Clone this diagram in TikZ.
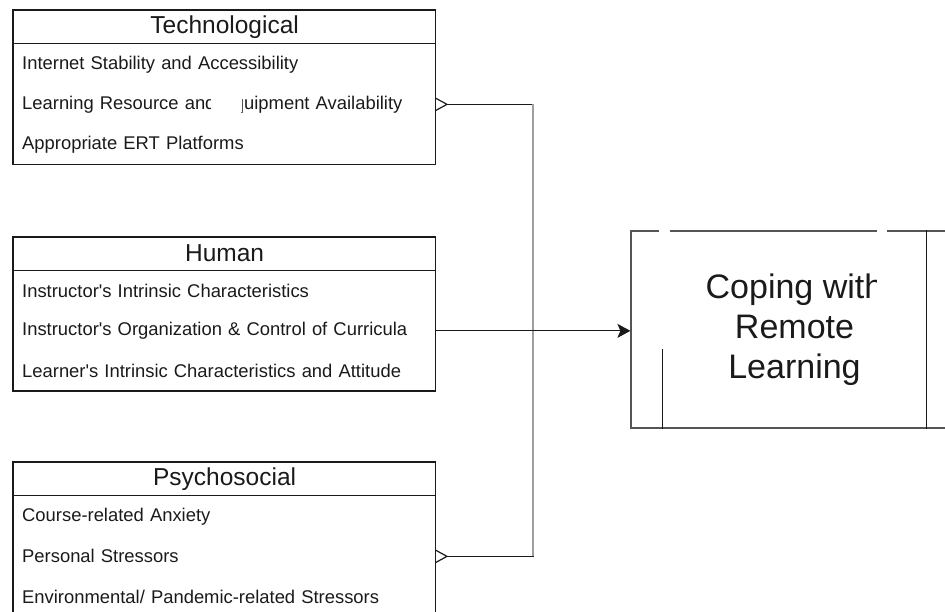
\documentclass[tikz,border=0pt]{standalone}
\usepackage{fontspec}
\setmainfont{Liberation Sans}[Ligatures=TeXOff]
\usetikzlibrary{arrows.meta}
\definecolor{ink}{HTML}{1A1A1A}
\definecolor{edge}{HTML}{555555}
\newcommand{\hidebit}{\kern-0.14em\llap{\color{white}\rule[-0.12em]{1.64em}{0.92em}}\kern0.14em}
\begin{document}
\begin{tikzpicture}[x=1pt,y=-1pt,
  hdr/.style={draw=ink, line width=1.2pt, minimum width=422pt, minimum height=33pt, anchor=north west, inner sep=0pt, text=ink, font=\fontsize{24.5}{28}\selectfont},
  row/.style={minimum width=422pt, minimum height=39.7pt, anchor=north west, inner xsep=9pt, inner ysep=0pt, text width=404pt, align=left, text=ink, font=\fontsize{18.4}{21}\selectfont},
  frame/.style={draw=ink, line width=1.2pt},
  barb/.tip={Straight Barb[reversed, length=11pt, width=12pt]},
  link/.style={draw=ink, line width=1.2pt},
  blocktip/.tip={Stealth[length=13pt, width=14pt, inset=3pt]}]
\useasboundingbox (0,0) rectangle (945,611);
\clip (0,0) rectangle (945,611);
% Technological
\node[hdr] (th) at (13,10) {Technological};
\node[row] (t1) at (th.south west) {Internet Stability and Accessibility};
\node[row] (t2) at (t1.south west) {Learning Resource and Eq\hidebit uipment Availability};
\node[row] (t3) at (t2.south west) {Appropriate ERT Platforms};
\draw[frame] (th.north west) rectangle (t3.south east);
% Human
\node[hdr] (hh) at (13,236.5) {Human};
\node[row] (h1) at (hh.south west) {Instructor's Intrinsic Characteristics};
\node[row] (h2) at (h1.south west) {Instructor's Organization \& Control of Curricula};
\node[row] (h3) at (h2.south west) {Learner's Intrinsic Characteristics and Attitude};
\draw[frame] (hh.north west) rectangle (h3.south east);
% Psychosocial
\node[hdr] (ph) at (13,462) {Psychosocial};
\node[row] (p1) at (ph.south west) {Course-related Anxiety};
\node[row] (p2) at (p1.south west) {Personal Stressors};
\node[row] (p3) at (p2.south west) {Environmental/ Pandemic-related Stressors};
\draw[frame] (ph.north west) rectangle (p3.south east);
% Outcome (process shape)
\node[draw=edge, line width=1.2pt, minimum width=327pt, minimum height=197pt, inner sep=0pt, align=center, text=ink, font=\fontsize{34}{40}\selectfont] (cope) at (794.5,329.5) {Coping with\\Remote\\Learning};
\draw[frame] ([xshift=32pt]cope.north west) -- ([xshift=32pt]cope.south west);
\draw[frame] ([xshift=-32pt]cope.north east) -- ([xshift=-32pt]cope.south east);
% connectors
\coordinate (jx) at (533,0);
\draw[link, {barb}-{barb}] (t2.east) -- (t2.east -| jx) -- (p2.east -| jx) -- (p2.east);
\draw[line width=1.6pt, draw=gray!75] (t2.east -| jx) -- (p2.east -| jx);
\draw[link, -{blocktip}] (h2.east) -- (h2.east -| cope.west);
% white occlusions seen in the reference
\fill[white] (659,225) rectangle (670,349);
\fill[white] (877,225) rectangle (887,304);
\end{tikzpicture}
\end{document}
